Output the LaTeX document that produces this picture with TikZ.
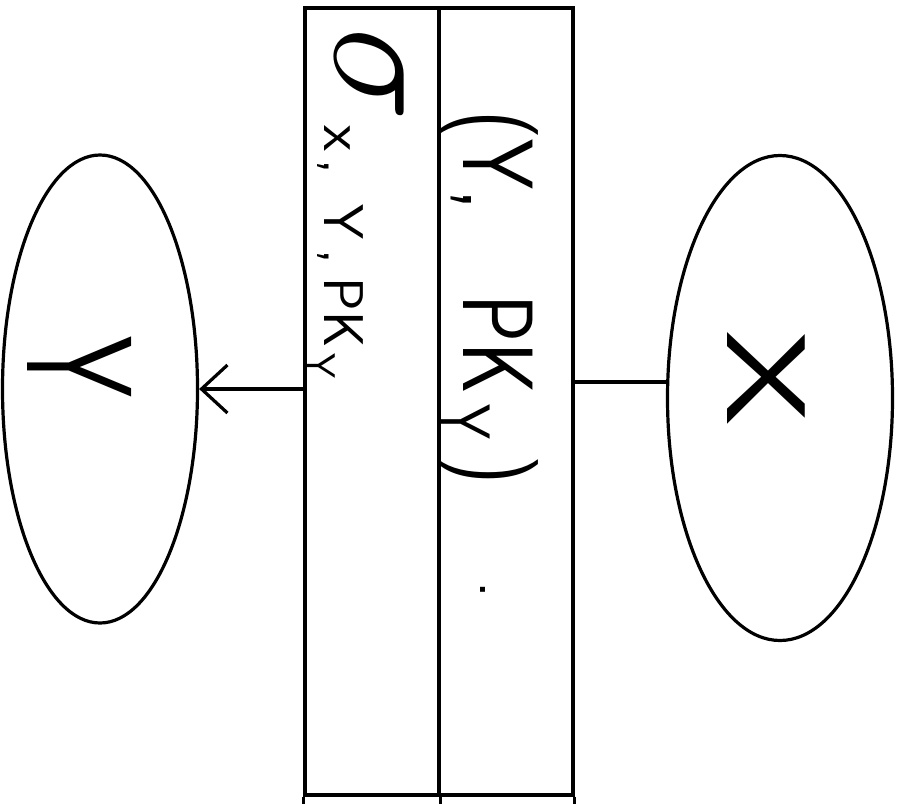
\documentclass[tikz,border=0pt]{standalone}
\usepackage{fontspec}
\usepackage{graphicx}
\usetikzlibrary{shapes.geometric,arrows.meta,calc}
\newcommand{\lowsub}[2]{\raisebox{-0.22em}{\fontsize{#1}{#1}\selectfont #2}}
\begin{document}
\begin{tikzpicture}[x=1pt,y=1pt,
  ink/.style={line width=3.2pt, black},
  setnode/.style={ink, draw, ellipse, inner sep=0pt},
  colbox/.style={ink, draw, rectangle, inner sep=0pt, minimum width=134pt, minimum height=787pt},
  hand/.style={rotate=-90, inner sep=0pt, font=\sffamily},
  arr/.style={ink, -{Straight Barb[length=26pt,width=48pt,line width=3.2pt]}}]
\useasboundingbox (0,0) rectangle (901,-803);
% table columns
\node[colbox] (col1) at (372,-401.5) {};
\node[colbox] (col2) at (506,-401.5) {};
\draw[ink] (col1.south west) -- ++(0,-10);
\draw[ink] (col1.south east) -- ++(0,-10);
\draw[ink] (col2.south east) -- ++(0,-10);
% sets
\node[setnode, minimum width=195pt, minimum height=468pt] (Yset) at (100,-389) {};
\node[setnode, minimum width=225pt, minimum height=485pt] (Xset) at (780,-398) {};
\node[hand] (ylab) at (80,-367) {\scalebox{0.65}[1]{\fontsize{150}{150}\selectfont Y}};
\node[hand] (xlab) at (766,-378) {\scalebox{1.37}[1]{\fontsize{112}{112}\selectfont X}};
% column texts
\node[hand, anchor=base west] (t1) at (324,-27)
  {\fontsize{56}{56}\selectfont\raisebox{11pt}{\scalebox{6.4}{$\sigma$}}\hspace{4pt}{\fontsize{60}{60}\selectfont x}\hspace{8pt},\hspace{30pt}Y\hspace{10pt},\hspace{14pt}PK\hspace{6pt}\raisebox{-17pt}{\fontsize{40}{40}\selectfont Y}};
\node[hand, anchor=base west] (t2) at (463,-110)
  {\fontsize{100}{100}\selectfont\scalebox{0.8}[1]{(Y,\hspace{105pt}PK\hspace{12pt}\lowsub{70}{Y}\hspace{20pt})}};
\node[hand, scale=6] (dot) at (483,-590) {.};
% connectors
\draw[arr] (col1.west |- Yset.east) -- (Yset.east);
\coordinate (ln) at ($(Xset.west)+(0,16)$);
\draw[ink] (col2.east |- ln) -- (ln);
\end{tikzpicture}
\end{document}
